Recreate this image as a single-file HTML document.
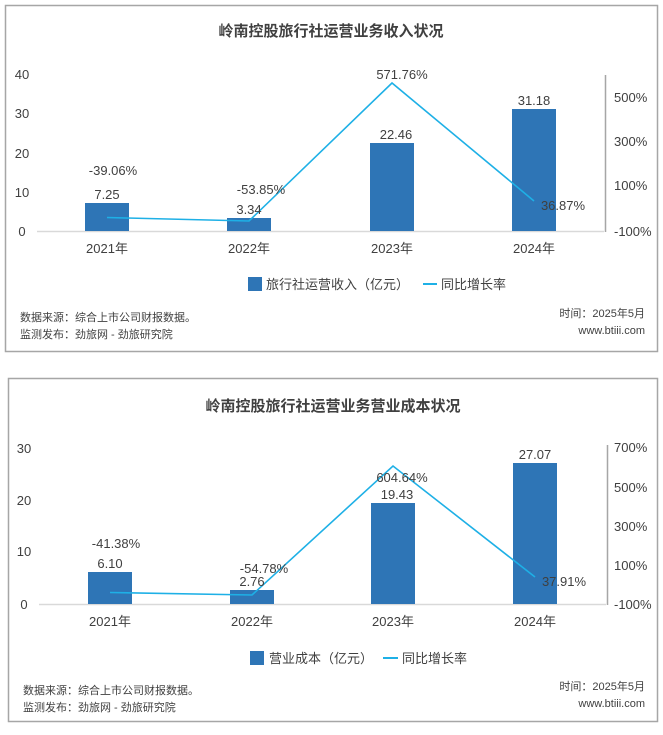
<!DOCTYPE html>
<html><head><meta charset="utf-8"><style>
body{margin:0;background:#fff;}
text{font-family:"Liberation Sans","Noto Sans CJK SC",sans-serif;fill:#404040;}
</style></head><body>
<svg width="663" height="730" viewBox="0 0 663 730" xmlns="http://www.w3.org/2000/svg">
<!-- Chart 1 -->
<rect x="5.5" y="5.5" width="652" height="346" fill="#fff" stroke="#a6a6a6" stroke-width="1.5"/>
<text x="331" y="36" font-size="15" font-weight="bold" text-anchor="middle" fill="#595959">岭南控股旅行社运营业务收入状况</text>
<g font-size="13" fill="#595959">
<text x="22" y="79" text-anchor="middle">40</text>
<text x="22" y="118" text-anchor="middle">30</text>
<text x="22" y="158" text-anchor="middle">20</text>
<text x="22" y="197" text-anchor="middle">10</text>
<text x="22" y="236" text-anchor="middle">0</text>
<text x="614" y="102">500%</text>
<text x="614" y="146">300%</text>
<text x="614" y="190">100%</text>
<text x="614" y="236">-100%</text>
</g>
<line x1="37" y1="231.5" x2="604" y2="231.5" stroke="#d9d9d9" stroke-width="1.5"/>
<line x1="605.5" y1="75" x2="605.5" y2="232" stroke="#a6a6a6" stroke-width="1.5"/>
<g fill="#2e75b6">
<rect x="85" y="203" width="44" height="28"/>
<rect x="227" y="218" width="44" height="13"/>
<rect x="370" y="143" width="44" height="88"/>
<rect x="512" y="109" width="44" height="122"/>
</g>
<polyline points="107,217.5 249,221 392,83 534,201" fill="none" stroke="#1eb0e6" stroke-width="1.6"/>
<g font-size="13" text-anchor="middle">
<text x="107" y="199">7.25</text>
<text x="249" y="214">3.34</text>
<text x="396" y="139">22.46</text>
<text x="534" y="105">31.18</text>
<text x="113" y="175">-39.06%</text>
<text x="261" y="194">-53.85%</text>
<text x="402" y="79">571.76%</text>
<text x="563" y="210">36.87%</text>
</g>
<g font-size="13" text-anchor="middle" fill="#595959">
<text x="107" y="253">2021年</text>
<text x="249" y="253">2022年</text>
<text x="392" y="253">2023年</text>
<text x="534" y="253">2024年</text>
</g>
<rect x="248" y="277" width="14" height="14" fill="#2e75b6"/>
<text x="266" y="289" font-size="13" fill="#595959">旅行社运营收入（亿元）</text>
<line x1="423" y1="284" x2="437" y2="284" stroke="#1eb0e6" stroke-width="2"/>
<text x="441" y="289" font-size="13" fill="#595959">同比增长率</text>
<g font-size="11" fill="#595959">
<text x="20" y="321">数据来源：综合上市公司财报数据。</text>
<text x="20" y="338">监测发布：劲旅网 - 劲旅研究院</text>
<text x="645" y="317" text-anchor="end">时间：2025年5月</text>
<text x="645" y="334" text-anchor="end">www.btiii.com</text>
</g>

<!-- Chart 2 -->
<rect x="8.5" y="378.5" width="649" height="343" fill="#fff" stroke="#a6a6a6" stroke-width="1.5"/>
<text x="333" y="411" font-size="15" font-weight="bold" text-anchor="middle" fill="#595959">岭南控股旅行社运营业务营业成本状况</text>
<g font-size="13" fill="#595959">
<text x="24" y="453" text-anchor="middle">30</text>
<text x="24" y="505" text-anchor="middle">20</text>
<text x="24" y="556" text-anchor="middle">10</text>
<text x="24" y="609" text-anchor="middle">0</text>
<text x="614" y="452">700%</text>
<text x="614" y="492">500%</text>
<text x="614" y="531">300%</text>
<text x="614" y="570">100%</text>
<text x="614" y="609">-100%</text>
</g>
<line x1="39" y1="604.5" x2="606" y2="604.5" stroke="#d9d9d9" stroke-width="1.5"/>
<line x1="607.5" y1="445" x2="607.5" y2="605" stroke="#a6a6a6" stroke-width="1.5"/>
<g fill="#2e75b6">
<rect x="88" y="572" width="44" height="32"/>
<rect x="230" y="590" width="44" height="14"/>
<rect x="371" y="503" width="44" height="101"/>
<rect x="513" y="463" width="44" height="141"/>
</g>
<polyline points="110,592.5 252,595 393,466 535,577" fill="none" stroke="#1eb0e6" stroke-width="1.6"/>
<g font-size="13" text-anchor="middle">
<text x="110" y="568">6.10</text>
<text x="252" y="586">2.76</text>
<text x="397" y="499">19.43</text>
<text x="535" y="459">27.07</text>
<text x="116" y="548">-41.38%</text>
<text x="264" y="573">-54.78%</text>
<text x="402" y="482">604.64%</text>
<text x="564" y="586">37.91%</text>
</g>
<g font-size="13" text-anchor="middle" fill="#595959">
<text x="110" y="626">2021年</text>
<text x="252" y="626">2022年</text>
<text x="393" y="626">2023年</text>
<text x="535" y="626">2024年</text>
</g>
<rect x="250" y="651" width="14" height="14" fill="#2e75b6"/>
<text x="269" y="663" font-size="13" fill="#595959">营业成本（亿元）</text>
<line x1="383" y1="658" x2="398" y2="658" stroke="#1eb0e6" stroke-width="2"/>
<text x="402" y="663" font-size="13" fill="#595959">同比增长率</text>
<g font-size="11" fill="#595959">
<text x="23" y="694">数据来源：综合上市公司财报数据。</text>
<text x="23" y="711">监测发布：劲旅网 - 劲旅研究院</text>
<text x="645" y="690" text-anchor="end">时间：2025年5月</text>
<text x="645" y="707" text-anchor="end">www.btiii.com</text>
</g>
</svg>
</body></html>
